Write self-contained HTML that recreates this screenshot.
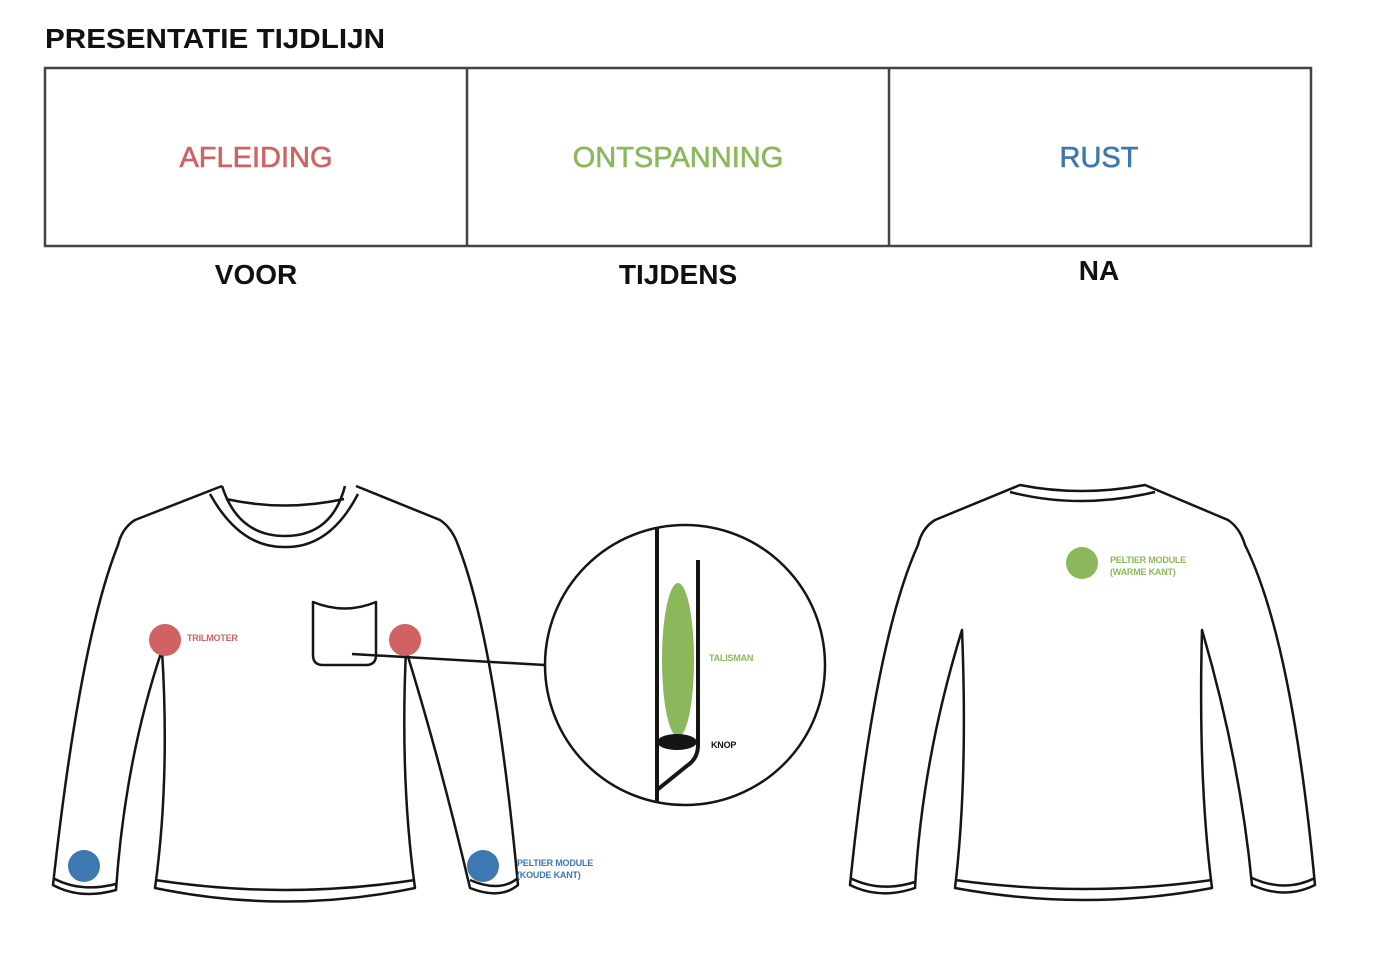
<!DOCTYPE html>
<html><head><meta charset="utf-8"><style>
html,body{margin:0;padding:0;background:#fff;}
svg{display:block;}
text{font-family:"Liberation Sans",sans-serif;}
</style></head><body>
<svg width="1384" height="972" viewBox="0 0 1384 972">
<text x="45" y="48" font-size="28" font-weight="bold" fill="#111" textLength="340" lengthAdjust="spacingAndGlyphs">PRESENTATIE TIJDLIJN</text>
<g fill="none" stroke="#444" stroke-width="2.5">
<rect x="45" y="68" width="1266" height="178"/>
<line x1="467" y1="68" x2="467" y2="246"/>
<line x1="889" y1="68" x2="889" y2="246"/>
</g>
<g font-size="29" text-anchor="middle" stroke-width="0.6">
<text x="256" y="167" fill="#d06262" stroke="#d06262">AFLEIDING</text>
<text x="678" y="167" fill="#8bb85a" stroke="#8bb85a">ONTSPANNING</text>
<text x="1099" y="167" fill="#3d78b0" stroke="#3d78b0">RUST</text>
</g>
<g font-size="28" font-weight="bold" fill="#111" text-anchor="middle">
<text x="256" y="284">VOOR</text>
<text x="678" y="284">TIJDENS</text>
<text x="1099" y="280">NA</text>
</g>

<g fill="none" stroke="#151515" stroke-width="2.5" stroke-linejoin="round">
<path d="M222,486 L135,520 Q122,528 118,545 Q80,640 53,885 Q80,900 116,890 Q125,760 162,650 Q170,780 155,888 Q285,915 415,888 Q400,780 406,650 Q440,760 470,888 Q500,900 518,885 Q495,640 458,545 Q452,528 440,520 L356,486"/>
<path d="M53,878 Q80,893 116,884"/><path d="M155,880 Q285,900 415,880"/><path d="M470,880 Q500,893 518,878"/>
<path d="M210,494 Q240,548 285,547 Q330,548 358,494"/>
<path d="M222,486 Q238,536 285,536 Q332,536 345,486"/>
<path d="M226,499 Q285,512 344,499"/>
<path d="M313,602 Q345,615 376,602 L376,655 Q376,665 366,665 L323,665 Q313,665 313,655 Z"/>
<line x1="352" y1="654" x2="545" y2="665"/>
<circle cx="685" cy="665" r="140"/>
</g>
<line x1="657" y1="528" x2="657" y2="802" stroke="#151515" stroke-width="4"/>
<path d="M698,560 L698,745 Q698,758 688,765 L657,790" fill="none" stroke="#151515" stroke-width="4"/>
<ellipse cx="678" cy="660" rx="16" ry="77" fill="#8bb85a"/>
<ellipse cx="677" cy="742" rx="20" ry="8" fill="#151515"/>
<g font-size="9" font-weight="bold" letter-spacing="-0.2">
<text x="709" y="661" fill="#8bb85a">TALISMAN</text>
<text x="711" y="748" fill="#111">KNOP</text>
<text x="187" y="641" fill="#d06262">TRILMOTER</text>
<text x="517" y="866" fill="#3d78b0">PELTIER MODULE</text>
<text x="517" y="878" fill="#3d78b0">(KOUDE KANT)</text>
<text x="1110" y="563" fill="#8bb85a">PELTIER MODULE</text>
<text x="1110" y="575" fill="#8bb85a">(WARME KANT)</text>
</g>
<circle cx="165" cy="640" r="16" fill="#d06262"/>
<circle cx="405" cy="640" r="16" fill="#d06262"/>
<circle cx="84" cy="866" r="16" fill="#3d78b0"/>
<circle cx="483" cy="866" r="16" fill="#3d78b0"/>

<g fill="none" stroke="#151515" stroke-width="2.5" stroke-linejoin="round">
<path d="M1020,485 L935,520 Q922,528 918,545 Q875,640 850,885 Q880,900 915,888 Q922,760 962,630 Q968,780 955,888 Q1085,912 1212,888 Q1198,780 1202,630 Q1240,760 1252,885 Q1285,900 1315,885 Q1292,640 1245,545 Q1240,528 1228,520 L1145,485 Q1080,497 1020,485 Z"/>
<path d="M850,878 Q880,893 915,882"/><path d="M955,880 Q1085,898 1212,880"/><path d="M1252,878 Q1285,893 1315,878"/>
<path d="M1010,492 Q1080,510 1155,492"/>
</g>
<circle cx="1082" cy="563" r="16" fill="#8bb85a"/>
</svg>
</body></html>
